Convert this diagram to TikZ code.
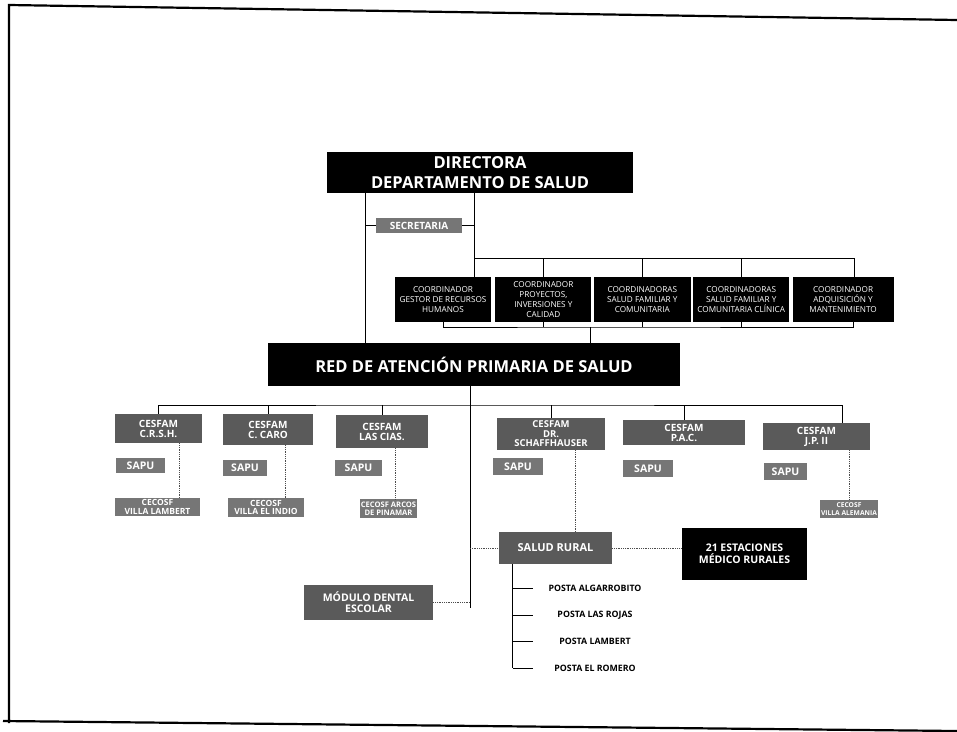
\documentclass[tikz,border=0pt]{standalone}
\usepackage{fontspec}
\setmainfont{Open Sans}
\usetikzlibrary{positioning,calc}
\definecolor{cesfamgray}{HTML}{5A5A5A}
\definecolor{smallgray}{HTML}{767676}
\tikzset{
  headbox/.style={
    fill=black,
    text=white,
    align=center,
    inner sep=0pt,
    font=\bfseries\fontsize{16.5}{20}\selectfont
  },
  coordbox/.style={
    fill=black,
    text=white,
    align=center,
    inner sep=0pt,
    minimum width=96pt,
    minimum height=45pt,
    font=\fontsize{8.2}{9.8}\selectfont
  },
  cesfambox/.style={
    fill=cesfamgray,
    text=white,
    align=center,
    inner sep=0pt,
    font=\bfseries\fontsize{10}{10}\selectfont
  },
  sapubox/.style={
    fill=smallgray,
    text=white,
    align=center,
    inner sep=0pt,
    font=\bfseries\fontsize{10.5}{11}\selectfont
  },
  cecosfbox/.style={
    fill=smallgray,
    text=white,
    align=center,
    inner sep=0pt,
    font=\bfseries\fontsize{8.5}{8.5}\selectfont
  },
  postatext/.style={
    inner sep=0pt,
    font=\bfseries\fontsize{8.8}{9}\selectfont
  },
  line/.style={line width=1pt},
  dotline/.style={densely dotted, line width=0.8pt, black!70},
  tick/.style={line width=0.7pt},
  frame/.style={line width=2.2pt}
}

\begin{document}
\begin{tikzpicture}[x=1pt,y=-1pt]
\useasboundingbox (0,0) rectangle (957,731);

% border of the scanned sheet
\draw[frame] (9,723) -- (9,5) -- (957,20);
\draw[frame] (3,721) -- (957,731);

% management
\node[headbox, minimum width=306pt, minimum height=41pt] (dir) at (480,172.5) {DIRECTORA\\DEPARTAMENTO DE SALUD};
\node[sapubox, minimum width=86pt, minimum height=15pt, font=\bfseries\fontsize{10}{10}\selectfont] (sec) at (419,225.5) {SECRETARIA};

% coordinators
\node[coordbox] (c1) at (443,299.5) {COORDINADOR\\GESTOR DE RECURSOS\\HUMANOS};
\node[coordbox, right=4pt of c1] (c2) {COORDINADOR\\PROYECTOS,\\INVERSIONES Y\\CALIDAD};
\node[coordbox, right=2pt of c2, minimum width=97pt] (c3) {COORDINADORAS\\SALUD FAMILIAR Y\\COMUNITARIA};
\node[coordbox, right=2pt of c3] (c4) {COORDINADORAS\\SALUD FAMILIAR Y\\COMUNITARIA CLÍNICA};
\node[coordbox, right=3pt of c4, minimum width=101pt] (c5) {COORDINADOR\\ADQUISICIÓN Y\\MANTENIMIENTO};

% primary care network
\node[headbox, minimum width=412pt, minimum height=43pt] (red) at (474,364.5) {RED DE ATENCIÓN PRIMARIA DE SALUD};

% CESFAM row
\node[cesfambox, minimum width=87pt, minimum height=29pt] (f1) at (158.5,428.5) {CESFAM\\C.R.S.H.};
\node[cesfambox, minimum width=90pt, minimum height=31pt] (f2) at (268,429.5) {CESFAM\\C. CARO};
\node[cesfambox, minimum width=92pt, minimum height=33pt] (f3) at (382,431.5) {CESFAM\\LAS CIAS.};
\node[cesfambox, minimum width=108pt, minimum height=32pt, font=\bfseries\fontsize{9.5}{9.5}\selectfont] (f4) at (551,434) {CESFAM\\DR.\\SCHAFFHAUSER};
\node[cesfambox, minimum width=122pt, minimum height=25pt] (f5) at (684,432.5) {CESFAM\\P.A.C.};
\node[cesfambox, minimum width=107pt, minimum height=27pt] (f6) at (816.5,436.5) {CESFAM\\J.P. II};

% SAPU
\node[sapubox, minimum width=49pt, minimum height=15pt] (s1) at (140.5,465.5) {SAPU};
\node[sapubox, minimum width=44pt, minimum height=16pt] (s2) at (245,468) {SAPU};
\node[sapubox, minimum width=47pt, minimum height=16pt] (s3) at (358.5,468) {SAPU};
\node[sapubox, minimum width=50pt, minimum height=17pt] (s4) at (518,466.5) {SAPU};
\node[sapubox, minimum width=50pt, minimum height=17pt] (s5) at (648,468.5) {SAPU};
\node[sapubox, minimum width=43pt, minimum height=17pt] (s6) at (785.5,471.5) {SAPU};

% CECOSF
\node[cecosfbox, minimum width=85pt, minimum height=18pt] (k1) at (157.5,507) {CECOSF\\VILLA LAMBERT};
\node[cecosfbox, minimum width=76pt, minimum height=19pt] (k2) at (266,507.5) {CECOSF\\VILLA EL INDIO};
\node[cecosfbox, minimum width=57pt, minimum height=19pt, font=\bfseries\fontsize{7.6}{8}\selectfont] (k3) at (388.5,508.5) {CECOSF ARCOS\\DE PINAMAR};
\node[cecosfbox, minimum width=58pt, minimum height=18pt, font=\bfseries\fontsize{6.7}{8}\selectfont] (k4) at (849,509) {CECOSF\\VILLA ALEMANIA};

% rural health
\node[cesfambox, minimum width=113pt, minimum height=32pt, font=\bfseries\fontsize{11}{11}\selectfont] (sr) at (555.5,548) {SALUD RURAL};
\node[headbox, minimum width=125pt, minimum height=52pt, font=\bfseries\fontsize{10.5}{12}\selectfont] (est) at (744.5,554) {21 ESTACIONES\\MÉDICO RURALES};
\node[cesfambox, minimum width=129pt, minimum height=35pt, font=\bfseries\fontsize{10.5}{11}\selectfont] (mod) at (368.5,602.5) {MÓDULO DENTAL\\ESCOLAR};

\node[postatext] (p1) at (595,588) {POSTA ALGARROBITO};
\node[postatext] (p2) at (595,615) {POSTA LAS ROJAS};
\node[postatext] (p3) at (595,641) {POSTA LAMBERT};
\node[postatext] (p4) at (595,668) {POSTA EL ROMERO};

% connectors, top part
\draw[line] (dir.south) ++(-115,0) coordinate (dl) -- (dl |- red.north);
\draw[line] (dl |- sec.west) -- (sec.west);
\coordinate (dr) at ([xshift=-6pt]dir.south);
\draw[line] (sec.east) -- (sec.east -| dr);
\draw[line] (dr) -- (dr |- c1.north);
\coordinate (cbus) at (600,258);
\draw[line] (dr |- cbus) -| ([xshift=11.5pt]c5.north);
\foreach \c in {c2,c3,c4}
  \draw[line] (\c.north) -- (\c.north |- cbus);

% coordinators to network
\coordinate (cbot) at (590,327);
\draw[line] (c1.south) |- (cbot) -| ([xshift=10pt]c5.south);
\foreach \c in {c2,c3,c4}
  \draw[line] (\c.south) -- (\c.south |- cbot);
\draw[line] (cbot) -- (cbot |- red.north);

% network to CESFAM
\draw[line] ([xshift=-4pt]red.south) -- ++(0,222) coordinate (rb);
\coordinate (fbus) at (470,405);
\draw[line] (f1.north) |- (fbus) -| ([xshift=25.5pt]f6.north);
\foreach \f in {f2,f3,f4,f5}
  \draw[line] (\f.north) -- (\f.north |- fbus);

% CESFAM to CECOSF
\draw[dotline] ([xshift=20.5pt]f1.south) coordinate (t1) -- (t1 |- k1.north);
\draw[dotline] ([xshift=17pt]f2.south) coordinate (t2) -- (t2 |- k2.north);
\draw[dotline] ([xshift=13pt]f3.south) coordinate (t3) -- (t3 |- k3.north);
\draw[dotline] ([xshift=24pt]f4.south) coordinate (t4) -- (t4 |- sr.north);
\draw[dotline] (f6.south -| k4.north) -- (k4.north);

% rural links
\draw[dotline] (sr.west -| rb) -- (sr.west);
\draw[dotline] (sr.east) -- (sr.east -| est.west);
\draw[dotline] (mod.east) -- (mod.east -| rb);

% postas
\coordinate (pv) at ([xshift=14pt]sr.south west);
\draw[line] (pv) -- (pv |- p4);
\foreach \p in {p1,p2,p3,p4}
  \draw[tick] (pv |- \p) -- ++(20,0);

\end{tikzpicture}
\end{document}
